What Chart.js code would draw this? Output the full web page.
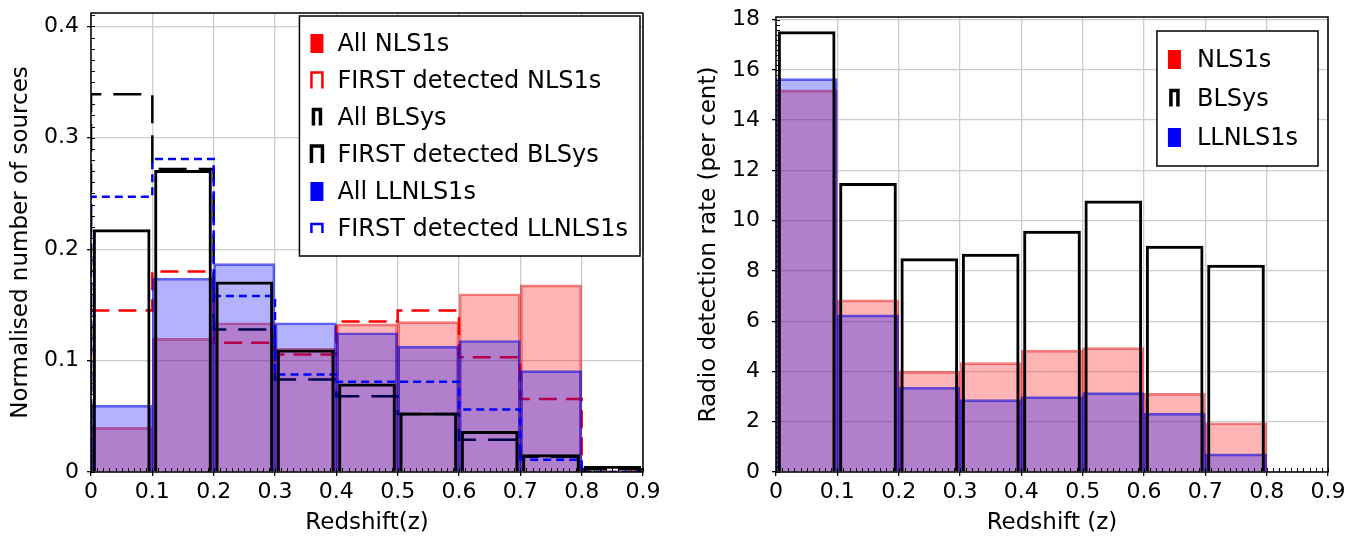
<!DOCTYPE html>
<html>
<head>
<meta charset="utf-8">
<script src="https://cdn.jsdelivr.net/npm/chart.js@4.4.0/dist/chart.umd.min.js"></script>
<style>
    html, body { margin: 0; padding: 0; background: #fff; }
    #wrap { position: relative; width: 1358px; height: 545px; }
    .panel { position: absolute; top: 0; height: 545px; }
    #left { left: 0; width: 665px; }
    #right { left: 680px; width: 678px; }
</style>
</head>
<body>
<div id="wrap">
    <div class="panel" id="left"><canvas id="leftChart" width="665" height="545"></canvas></div>
    <div class="panel" id="right"><canvas id="rightChart" width="678" height="545"></canvas></div>
</div>
<script>
// Redshift bins (left edges) and x ticks
var binEdges = [0, 0.1, 0.2, 0.3, 0.4, 0.5, 0.6, 0.7, 0.8];
var xTicks = [0, 0.1, 0.2, 0.3, 0.4, 0.5, 0.6, 0.7, 0.8, 0.9];
var xTickLabels = ['0', '0.1', '0.2', '0.3', '0.4', '0.5', '0.6', '0.7', '0.8', '0.9'];

// Left panel: normalised number of sources per bin
var allNLS1 = [0.040, 0.120, 0.134, 0.111, 0.133, 0.135, 0.160, 0.168, null];
var firstNLS1 = [0.145, 0.180, 0.116, 0.1055, 0.135, 0.145, 0.103, 0.0655, 0];
var allBLSy = [0.339, 0.272, 0.128, 0.083, 0.068, 0.052, 0.029, 0.0137, 0.0024];
var firstBLSy = [0.218, 0.271, 0.171, 0.110, 0.0795, 0.0535, 0.0368, 0.016, 0.0054];
var allLLNLS1 = [0.060, 0.174, 0.187, 0.134, 0.125, 0.113, 0.118, 0.091, null];
var firstLLNLS1 = [0.247, 0.281, 0.158, 0.0876, 0.081, 0.081, 0.056, 0.011, 0];
var leftYTicks = [0, 0.1, 0.2, 0.3, 0.4];
var leftYTickLabels = ['0', '0.1', '0.2', '0.3', '0.4'];

// Right panel: radio detection rate (per cent) per bin
var rateNLS1 = [15.2, 6.85, 4.0, 4.35, 4.85, 4.95, 3.13, 1.96];
var rateBLSy = [17.53, 11.5, 8.5, 8.68, 9.6, 10.8, 9.0, 8.24];
var rateLLNLS1 = [15.65, 6.25, 3.37, 2.88, 3.0, 3.16, 2.34, 0.72];
var rightYTicks = [0, 2, 4, 6, 8, 10, 12, 14, 16, 18];
var rightYTickLabels = ['0', '2', '4', '6', '8', '10', '12', '14', '16', '18'];

var binWidth = 0.1;
var FONT = 'DejaVu Sans';

function bars(values) {
    return values.map(function(v, i) {
        return { x: binEdges[i] + binWidth / 2, y: v };
    });
}

// outline of a step histogram: up at the first edge, down after the last bin
function steps(values) {
    var pts = [{ x: binEdges[0], y: 0 }];
    values.forEach(function(v, i) {
        pts.push({ x: binEdges[i], y: v });
    });
    pts.push({ x: binEdges[values.length - 1] + binWidth, y: 0 });
    return pts;
}

function fillBars(label, values, fill, edge, order, symbolColor) {
    return {
        type: 'bar', label: label, data: bars(values), order: order, grouped: false,
        backgroundColor: fill, borderColor: edge, borderWidth: 2, borderSkipped: 'bottom',
        barPercentage: 1, categoryPercentage: 1,
        legendSymbol: { type: 'fill', color: symbolColor, w: 13, h: 19 }
    };
}

function openBars(label, values, order, symbol) {
    return {
        type: 'bar', label: label, data: bars(values), order: order, grouped: false,
        backgroundColor: 'rgba(0,0,0,0)', borderColor: '#000', borderWidth: 3, borderSkipped: 'bottom',
        barPercentage: 0.94, categoryPercentage: 1,
        legendSymbol: symbol
    };
}

function stepLine(label, values, color, dash, order, symbol) {
    return {
        type: 'line', label: label, data: steps(values), order: order, stepped: 'before',
        borderColor: color, borderWidth: 2.5, borderDash: dash, pointRadius: 0, fill: false,
        tension: 0, legendSymbol: symbol
    };
}

// minor ticks along bottom/left and a full frame round the plot
var frameAndMinorTicks = {
    id: 'frameAndMinorTicks',
    afterDatasetsDraw: function(chart, args, opts) {
        var ctx = chart.ctx, a = chart.chartArea;
        var xs = chart.scales.x, ys = chart.scales.y;
        ctx.save();
        ctx.strokeStyle = '#000';
        ctx.lineWidth = 1;
        ctx.beginPath();
        var n = Math.round((xs.max - xs.min) / opts.x);
        for (var i = 0; i <= n; i++) {
            var px = Math.round(xs.getPixelForValue(xs.min + i * opts.x)) + 0.5;
            ctx.moveTo(px, a.bottom);
            ctx.lineTo(px, a.bottom - opts.len);
        }
        n = Math.floor((ys.max - ys.min) / opts.y + 1e-6);
        for (var j = 0; j <= n; j++) {
            var py = Math.round(ys.getPixelForValue(ys.min + j * opts.y)) + 0.5;
            ctx.moveTo(a.left, py);
            ctx.lineTo(a.left + opts.len, py);
        }
        ctx.stroke();
        ctx.lineWidth = 1.5;
        ctx.strokeRect(a.left, a.top, a.right - a.left, a.bottom - a.top);
        ctx.restore();
    }
};

// boxed legend in the top right corner of the plot
var boxLegend = {
    id: 'boxLegend',
    afterDatasetsDraw: function(chart, args, opts) {
        var ctx = chart.ctx, a = chart.chartArea;
        var items = chart.data.datasets.filter(function(d) { return d.legendSymbol; });
        ctx.save();
        ctx.font = opts.fontSize + 'px "' + FONT + '"';
        var textW = Math.max.apply(null, items.map(function(d) { return ctx.measureText(d.label).width; }));
        var w = opts.textOffset + textW + opts.padRight;
        var h = opts.padTop * 2 + items.length * opts.rowHeight;
        var x = a.right - opts.right - w;
        var y = a.top + opts.top;
        ctx.fillStyle = '#fff';
        ctx.fillRect(x, y, w, h);
        ctx.strokeStyle = '#000';
        ctx.lineWidth = 1.5;
        ctx.strokeRect(x, y, w, h);
        items.forEach(function(d, i) {
            var cy = y + opts.padTop + opts.rowHeight * (i + 0.5);
            var s = d.legendSymbol;
            var sx = x + opts.symbolOffset;
            if (s.type === 'fill') {
                ctx.fillStyle = s.color;
                ctx.fillRect(sx, cy - s.h / 2, s.w, s.h);
            } else {
                ctx.strokeStyle = s.color;
                ctx.lineWidth = s.lw;
                ctx.beginPath();
                ctx.moveTo(sx + (13 - s.w) / 2, cy + s.h / 2);
                ctx.lineTo(sx + (13 - s.w) / 2, cy - s.h / 2);
                ctx.lineTo(sx + (13 + s.w) / 2, cy - s.h / 2);
                ctx.lineTo(sx + (13 + s.w) / 2, cy + s.h / 2);
                ctx.stroke();
            }
            ctx.fillStyle = '#000';
            ctx.textAlign = 'left';
            ctx.textBaseline = 'middle';
            ctx.fillText(d.label, x + opts.textOffset, cy + 1);
        });
        ctx.restore();
    }
};

function makeOptions(yMax, yTicks, yTickLabels, yTitle, xTitle, yWidth, pad, minorY, tickPad, titlePad, legendOpts) {
    return {
        responsive: false,
        animation: false,
        layout: { padding: pad },
        plugins: {
            legend: { display: false },
            tooltip: { enabled: false },
            frameAndMinorTicks: { x: 0.01, y: minorY, len: 4 },
            boxLegend: legendOpts
        },
        scales: {
            x: {
                type: 'linear', min: 0, max: 0.9, offset: false,
                afterBuildTicks: function(s) { s.ticks = xTicks.map(function(v) { return { value: v }; }); },
                afterFit: function(s) { s.height = 73; s.paddingLeft = 0; s.paddingRight = 0; },
                ticks: {
                    autoSkip: false, maxRotation: 0, padding: 3, color: '#000',
                    font: { family: FONT, size: 22 },
                    callback: function(v, i) { return xTickLabels[i]; }
                },
                grid: { color: '#cccccc', lineWidth: 1.3, tickColor: '#000', tickLength: 4, offset: false },
                border: { display: false },
                title: {
                    display: true, text: xTitle, color: '#000',
                    font: { family: FONT, size: 23 }, padding: { top: 0, bottom: 8 }
                }
            },
            y: {
                min: 0, max: yMax,
                afterBuildTicks: function(s) { s.ticks = yTicks.map(function(v) { return { value: v }; }); },
                afterFit: function(s) { s.width = yWidth; s.paddingTop = 0; s.paddingBottom = 0; },
                ticks: {
                    padding: tickPad, color: '#000',
                    font: { family: FONT, size: 22 },
                    callback: function(v, i) { return yTickLabels[i]; }
                },
                grid: { color: '#cccccc', lineWidth: 1.3, tickColor: '#000', tickLength: 4 },
                border: { display: false },
                title: {
                    display: true, text: yTitle, color: '#000',
                    font: { family: FONT, size: 23 }, padding: { top: titlePad, bottom: 0 }
                }
            }
        }
    };
}

new Chart(document.getElementById('leftChart'), {
    type: 'bar',
    data: {
        datasets: [
            fillBars('All NLS1s', allNLS1, 'rgba(255,0,0,0.29)', 'rgba(230,0,0,0.5)', 7, '#ff0000'),
            stepLine('FIRST detected NLS1s', firstNLS1, '#ff0000', [18, 9], 6,
                { type: 'step', color: '#ff0000', w: 11, h: 16, lw: 2.5 }),
            stepLine('All BLSys', allBLSy, '#000000', [28, 12], 5,
                { type: 'step', color: '#000', w: 7, h: 16, lw: 3.5 }),
            openBars('FIRST detected BLSys', firstBLSy, 2,
                { type: 'step', color: '#000', w: 11, h: 17, lw: 3.5 }),
            fillBars('All LLNLS1s', allLLNLS1, 'rgba(0,0,255,0.3)', 'rgba(0,0,220,0.6)', 4, '#0000ff'),
            stepLine('FIRST detected LLNLS1s', firstLLNLS1, '#0000ff', [8, 5], 3,
                { type: 'step', color: '#0000ff', w: 11, h: 9, lw: 2.5 })
        ]
    },
    options: makeOptions(0.412, leftYTicks, leftYTickLabels, 'Normalised number of sources', 'Redshift(z)',
        91, { top: 13, right: 22, left: 0, bottom: 0 }, 0.01, 8, 7,
        { fontSize: 24, right: 3, top: 3, padTop: 9, rowHeight: 37, symbolOffset: 11, textOffset: 38, padRight: 12 }),
    plugins: [frameAndMinorTicks, boxLegend]
});

new Chart(document.getElementById('rightChart'), {
    type: 'bar',
    data: {
        datasets: [
            fillBars('NLS1s', rateNLS1, 'rgba(255,0,0,0.29)', 'rgba(230,0,0,0.5)', 3, '#ff0000'),
            openBars('BLSys', rateBLSy, 1, { type: 'step', color: '#000', w: 7, h: 16, lw: 3.5 }),
            fillBars('LLNLS1s', rateLLNLS1, 'rgba(0,0,255,0.3)', 'rgba(0,0,220,0.6)', 2, '#0000ff')
        ]
    },
    options: makeOptions(18.1, rightYTicks, rightYTickLabels, 'Radio detection rate (per cent)', 'Redshift (z)',
        96, { top: 17, right: 30, left: 0, bottom: 0 }, 0.2, 12, 15,
        { fontSize: 24, right: 10, top: 14, padTop: 9, rowHeight: 39, symbolOffset: 11, textOffset: 40, padRight: 20 }),
    plugins: [frameAndMinorTicks, boxLegend]
});
</script>
</body>
</html>
